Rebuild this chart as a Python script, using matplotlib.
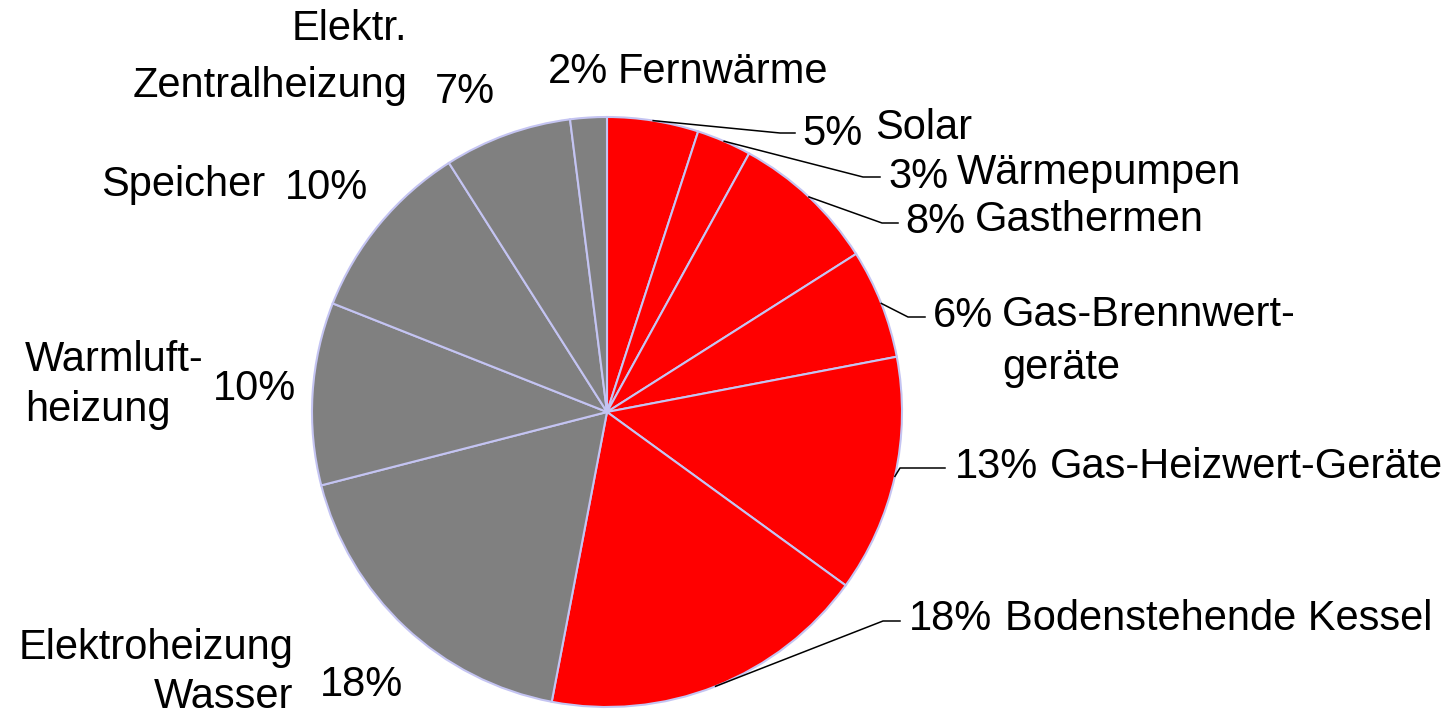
import numpy as np
import matplotlib
matplotlib.use("Agg")
import matplotlib.pyplot as plt

plt.rcParams['font.family'] = ['Liberation Sans', 'DejaVu Sans']

# Data (clockwise from 12 o'clock)
names = ['Solar', 'Wärmepumpen', 'Gasthermen', 'Gas-Brennwert-\ngeräte',
         'Gas-Heizwert-Geräte', 'Bodenstehende Kessel', 'Elektroheizung\nWasser',
         'Warmluft-\nheizung', 'Speicher', 'Elektr.\nZentralheizung', 'Fernwärme']
values = [5, 3, 8, 6, 13, 18, 18, 10, 10, 7, 2]
colors = ['#ff0000'] * 6 + ['#808080'] * 5

W, H = 1453, 715
CX, CY, R = 607, 412, 295
FS = 30

fig = plt.figure(figsize=(W / 100, H / 100), dpi=100)
ax = fig.add_axes([(CX - R) / W, (H - CY - R) / H, 2 * R / W, 2 * R / H])
wedges, _ = ax.pie(values, colors=colors, startangle=90, counterclock=False,
                   radius=1, wedgeprops=dict(edgecolor='#c4c4f2', linewidth=1.5))
ax.set_xlim(-1, 1)
ax.set_ylim(-1, 1)
ax.set_aspect('equal')
ax.axis('off')


def px(x, y):
    # pixel position -> pie data coords
    return (x - CX) / R, (CY - y) / R


def put(s, x, y, ha='left'):
    xd, yd = px(x, y)
    ax.text(xd, yd, s, fontsize=FS, ha=ha, va='center', clip_on=False)


# label layout in pixels: pct (x, y), name x, name line y's, ha
layout = {
    0: ((802, 134), 875, [128], 'left'),
    1: ((888, 177), 957, [173], 'left'),
    2: ((905, 222), 975, [220], 'left'),
    3: ((933, 316), 1002, [315, 368], 'left'),
    4: ((955, 467), 1050, [467], 'left'),
    5: ((909, 619), 1005, [619], 'left'),
    6: ((320, 685), 293, [648, 697], 'right'),
    7: ((213, 389), 25, [360, 410], 'left'),
    8: ((285, 188), 265, [185], 'right'),
    9: ((435, 92), 407, [29, 86], 'right'),
    10: ((548, 72), 618, [72], 'left'),
}

# leader lines for the red slices: elbow (x, y), end x
leaders = {
    0: (780, 133, 795),
    1: (863, 177, 880),
    2: (882, 223, 898),
    3: (908, 317, 925),
    4: (900, 468, 945),
    5: (883, 621, 900),
}

total = sum(values)
cum = np.cumsum([0] + values)
for i, (ex, ey, endx) in leaders.items():
    frac = (cum[i] + values[i] / 2) / total
    ang = np.deg2rad(90 - 360 * frac)
    bx, by = px(ex, ey)
    ex2, _ = px(endx, ey)
    ax.plot([np.cos(ang), bx, ex2], [np.sin(ang), by, by],
            color='black', lw=1.1, clip_on=False)

for i, ((pxx, pyy), nx, nys, ha) in layout.items():
    put(f'{values[i]}%', pxx, pyy)
    for line, ny in zip(names[i].split('\n'), nys):
        put(line, nx, ny, ha)

fig.savefig('out.png', dpi=100)
